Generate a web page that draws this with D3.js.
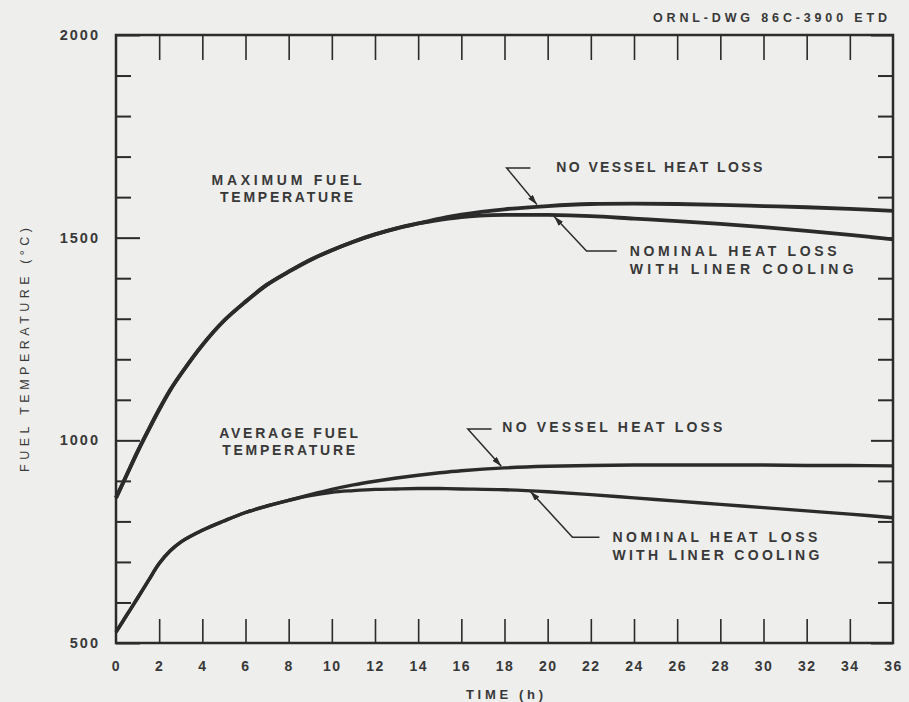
<!DOCTYPE html>
<html>
<head>
<meta charset="utf-8">
<script src="https://cdn.jsdelivr.net/npm/d3@7"></script>
<style>
  html, body { margin: 0; padding: 0; background: #eeeeec; }
  svg { display: block; }
  text { font-family: "Liberation Sans", Arial, sans-serif; font-weight: bold; fill: #383838; }
</style>
</head>
<body>
<svg id="chart" width="909" height="702"></svg>
<script>
// ---------------- DATA ----------------
const timeH = [0, 0.5, 1, 1.5, 2, 2.5, 3, 4, 5, 6, 7, 8, 9, 10, 11, 12, 13, 14, 15, 16, 18, 20, 22, 24, 26, 28, 30, 32, 34, 36];

const maxNoVesselLoss = [858, 915, 972, 1025, 1076, 1123, 1163, 1235, 1295, 1342, 1384, 1416, 1445, 1469, 1490, 1508, 1523, 1535, 1547,
  1557, 1570, 1578, 1583, 1584, 1583, 1581, 1578, 1575, 1571, 1566];
const maxNominalLiner = [858, 915, 972, 1025, 1076, 1123, 1163, 1235, 1295, 1342, 1384, 1416, 1445, 1469, 1490, 1508, 1523, 1535, 1544,
  1551, 1556, 1556, 1553, 1547, 1541, 1534, 1526, 1517, 1507, 1496];
const avgNoVesselLoss = [527, 569, 611, 654, 696, 727, 749, 778, 801, 822, 838, 852, 866, 879, 890, 899, 907, 914, 920,
  925, 932, 936, 938, 939, 939, 939, 939, 938, 938, 937];
const avgNominalLiner = [527, 569, 611, 654, 696, 727, 749, 778, 801, 822, 838, 852, 864, 872, 876, 879, 880, 881, 881,
  880, 878, 873, 866, 858, 850, 842, 834, 826, 818, 809];

const xTicks = d3.range(0, 37, 2);
const yTicks = d3.range(500, 2001, 100);
const yLabelTicks = [500, 1000, 1500, 2000];

const titleText = "ORNL-DWG 86C-3900 ETD";
const xAxisTitle = "TIME (h)";
const yAxisTitle = "FUEL TEMPERATURE (\u00B0C)";

// annotations: [text lines], anchor position in data units
const groupLabels = [
  { lines: ["MAXIMUM FUEL", "TEMPERATURE"], t: 7.9, v: 1630, widths: [150, 133] },
  { lines: ["AVERAGE FUEL", "TEMPERATURE"], t: 8.0, v: 1006, widths: [139, 133] }
];
const curveLabels = [
  { lines: ["NO VESSEL HEAT LOSS"], t: 20.4, v: 1663, widths: [206],
    leader: [[19.2, 1672], [18.1, 1672], [19.5, 1582]] },
  { lines: ["NOMINAL HEAT LOSS", "WITH LINER COOLING"], t: 23.8, v: 1455, widths: [207, 224],
    leader: [[23.2, 1467], [21.8, 1467], [20.3, 1552]] },
  { lines: ["NO VESSEL HEAT LOSS"], t: 17.9, v: 1020, widths: [220],
    leader: [[17.4, 1028], [16.3, 1028], [17.85, 936]] },
  { lines: ["NOMINAL HEAT LOSS", "WITH LINER COOLING"], t: 23.0, v: 750, widths: [205, 207],
    leader: [[22.4, 761], [21.15, 761], [19.2, 874]] }
];

// ---------------- LAYOUT ----------------
const svg = d3.select("#chart");
const W = 909, H = 702;
const m = { left: 116, right: W - 893, top: 35, bottom: H - 643 };
const x = d3.scaleLinear().domain([0, 36]).range([m.left, W - m.right]);
const y = d3.scaleLinear().domain([500, 2000]).range([H - m.bottom, m.top]);
const ink = "#2b2b2b";

svg.append("rect").attr("width", W).attr("height", H).attr("fill", "#eeeeec");

function styleAxis(g) {
  g.select(".domain").remove();
  g.selectAll(".tick line").attr("stroke", ink).attr("stroke-width", 1.6);
  g.selectAll(".tick text").attr("fill", "#383838")
    .style("font-family", "'Liberation Sans', Arial, sans-serif")
    .style("font-weight", "bold").style("font-size", "14px");
}

const inner = xTicks.filter(d => d > 0 && d < 36);

// bottom axis (labels + inward ticks)
const gB = svg.append("g").attr("transform", `translate(0,${y(500)})`)
  .call(d3.axisBottom(x).tickValues(xTicks).tickSize(-24).tickPadding(18).tickFormat(d3.format("d")));
styleAxis(gB);
gB.selectAll(".tick text").style("letter-spacing", "1.5px");
gB.selectAll(".tick").filter(d => d === 0 || d === 36).select("line").remove();

// top axis
const gT = svg.append("g").attr("transform", `translate(0,${y(2000)})`)
  .call(d3.axisTop(x).tickValues(inner).tickSize(-25).tickFormat(""));
styleAxis(gT);

// left axis
const gL = svg.append("g").attr("transform", `translate(${x(0)},0)`)
  .call(d3.axisLeft(y).tickValues(yTicks).tickSize(-15).tickPadding(16)
    .tickFormat(d => yLabelTicks.includes(d) ? d : ""));
styleAxis(gL);
gL.selectAll(".tick text").style("font-size", "14.5px").style("letter-spacing", "2px");
gL.selectAll(".tick").filter(d => yLabelTicks.includes(d)).select("line").attr("x2", 24);
gL.selectAll(".tick line").attr("stroke-width", 2);

// right axis
const gR = svg.append("g").attr("transform", `translate(${x(36)},0)`)
  .call(d3.axisRight(y).tickValues(yTicks).tickSize(-15).tickFormat(""));
styleAxis(gR);
gR.selectAll(".tick").filter(d => yLabelTicks.includes(d)).select("line").attr("x2", -22);
gR.selectAll(".tick line").attr("stroke-width", 2);

// frame
svg.append("rect")
  .attr("x", x(0)).attr("y", y(2000))
  .attr("width", x(36) - x(0)).attr("height", y(500) - y(2000))
  .attr("fill", "none").attr("stroke", ink).attr("stroke-width", 2.5);

// curves
const line = d3.line().x((d, i) => x(timeH[i])).y(d => y(d)).curve(d3.curveCatmullRom.alpha(0.5));
[maxNominalLiner, maxNoVesselLoss, avgNominalLiner, avgNoVesselLoss].forEach((s, k) => {
  svg.append("path").datum(s).attr("d", line)
    .attr("fill", "none").attr("stroke", ink)
    .attr("stroke-width", k < 2 ? 3.8 : 3.4)
    .attr("stroke-linejoin", "round").attr("stroke-linecap", "butt");
});

// arrow marker
svg.append("defs").append("marker")
  .attr("id", "arrow").attr("viewBox", "0 0 10 6")
  .attr("refX", 10).attr("refY", 3)
  .attr("markerWidth", 10).attr("markerHeight", 6)
  .attr("markerUnits", "userSpaceOnUse").attr("orient", "auto")
  .append("path").attr("d", "M0,0 L10,3 L0,6 Z").attr("fill", ink);

// group labels (centered)
groupLabels.forEach(g => {
  g.lines.forEach((ln, i) => {
    svg.append("text")
      .attr("x", x(g.t)).attr("y", y(g.v) + i * 17.5)
      .attr("text-anchor", "middle")
      .attr("textLength", g.widths[i]).attr("lengthAdjust", "spacing")
      .style("font-size", "14px")
      .text(ln);
  });
});

// curve labels with leaders
curveLabels.forEach(c => {
  c.lines.forEach((ln, i) => {
    svg.append("text")
      .attr("x", x(c.t)).attr("y", y(c.v) + i * 18.5)
      .attr("textLength", c.widths[i]).attr("lengthAdjust", "spacing")
      .style("font-size", "14px")
      .text(ln);
  });
  svg.append("path")
    .attr("d", d3.line().x(p => x(p[0])).y(p => y(p[1]))(c.leader))
    .attr("fill", "none").attr("stroke", ink).attr("stroke-width", 1.5)
    .attr("marker-end", "url(#arrow)");
});

// titles
svg.append("text").attr("x", 887).attr("y", 22).attr("text-anchor", "end")
  .attr("textLength", 234).attr("lengthAdjust", "spacing")
  .style("font-size", "12.5px").text(titleText);

svg.append("text").attr("x", (x(0) + x(36)) / 2).attr("y", 699)
  .attr("text-anchor", "middle").attr("textLength", 77).attr("lengthAdjust", "spacing")
  .style("font-size", "13px").text(xAxisTitle);

svg.append("text").attr("transform", `translate(29,350) rotate(-90)`)
  .attr("text-anchor", "middle").attr("textLength", 244).attr("lengthAdjust", "spacing")
  .style("font-size", "12.5px").style("font-weight", "normal").text(yAxisTitle);
</script>
</body>
</html>
